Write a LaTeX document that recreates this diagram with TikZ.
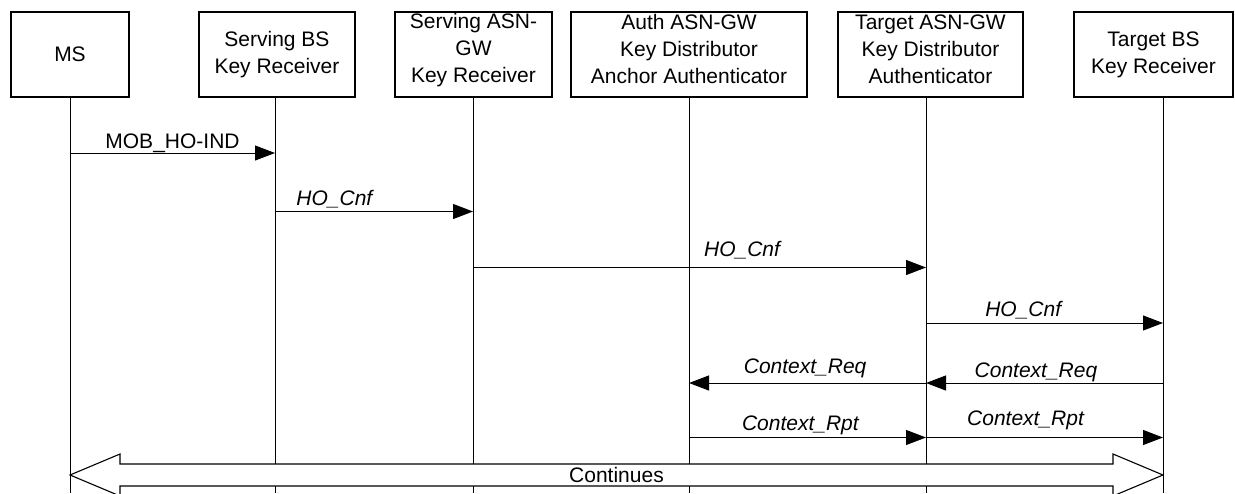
\documentclass[tikz,border=0pt]{standalone}
\usepackage{fontspec}
\setmainfont{Liberation Sans}
\usetikzlibrary{arrows.meta,calc}

\begin{document}
\begin{tikzpicture}[
    x=1pt, y=-1pt,
    entity/.style={draw, line width=1.1pt, minimum height=85pt, inner sep=0pt, align=center, font=\fontsize{21}{27}\selectfont},
    life/.style={line width=1pt},
    msg/.style={-{Triangle[length=20pt, width=15pt]}, line width=1pt},
    lbl/.style={anchor=base, inner sep=0pt, font=\fontsize{21}{27}\selectfont\itshape},
    bigarrow/.style={draw, fill=white, line width=1.1pt, line join=miter}
]
\useasboundingbox (0,0) rectangle (1235,493);

% Entities
\node[entity, minimum width=118pt] (ms) at (70,54.5) {MS};
\node[entity, minimum width=156pt] (sbs) at (277,54.5) {Serving BS\\Key Receiver};
\node[entity, minimum width=157pt, text depth=13pt] (sasn) at (473.5,54.5) {Serving ASN-\\GW\\Key Receiver};
\node[entity, minimum width=236pt, text depth=11pt] (auth) at (689,54.5) {Auth ASN-GW\\Key Distributor\\Anchor Authenticator};
\node[entity, minimum width=185pt, text depth=11pt] (tasn) at (930.5,54.5) {Target ASN-GW\\Key Distributor\\Authenticator};
\node[entity, minimum width=159pt] (tbs) at (1153.5,54.5) {Target BS\\Key Receiver};

% Lifelines
\coordinate (ms-l) at (70,97);
\coordinate (sbs-l) at (275,97);
\coordinate (sasn-l) at (473,97);
\coordinate (auth-l) at (689,97);
\coordinate (tasn-l) at (926,97);
\coordinate (tbs-l) at (1163,97);
\coordinate (bot) at (0,493);
\foreach \a in {ms,sbs,sasn,auth,tasn,tbs}
    \draw[life] (\a-l) -- (\a-l |- bot);

% Message rows
\coordinate (m1) at (0,153);
\coordinate (m2) at (0,211.5);
\coordinate (m3) at (0,267.5);
\coordinate (m4) at (0,323);
\coordinate (m5) at (0,383);
\coordinate (m6) at (0,437.5);
\coordinate (cont) at (0,475);

% Messages
\draw[msg] (ms-l |- m1) -- (sbs-l |- m1) node[lbl, pos=.5, yshift=5pt, font=\fontsize{21}{27}\selectfont] {MOB\_HO-IND};
\draw[msg] (sbs-l |- m2) -- (sasn-l |- m2) node[lbl, pos=.3, yshift=6.5pt] {HO\_Cnf};
\draw[msg] (sasn-l |- m3) -- (tasn-l |- m3) node[lbl, pos=.594, yshift=11pt] {HO\_Cnf};
\draw[msg] (tasn-l |- m4) -- (tbs-l |- m4) node[lbl, pos=.41, yshift=6.5pt] {HO\_Cnf};
\draw[msg] (tbs-l |- m5) -- (tasn-l |- m5) node[lbl, pos=.536, yshift=6pt] {Context\_Req};
\draw[msg] (tasn-l |- m5) -- (auth-l |- m5) node[lbl, pos=.51, yshift=10pt] {Context\_Req};
\draw[msg] (auth-l |- m6) -- (tasn-l |- m6) node[lbl, pos=.47, yshift=7.5pt] {Context\_Rpt};
\draw[msg] (tasn-l |- m6) -- (tbs-l |- m6) node[lbl, pos=.42, yshift=12.5pt] {Context\_Rpt};

% Continues
\draw[bigarrow] (ms-l |- cont) -- ++(50,-21) -- ++(0,10) -- ($(tbs-l |- cont)+(-50,-11)$) -- ++(0,-10)
    -- (tbs-l |- cont) -- ++(-50,21) -- ++(0,-10) -- ($(ms-l |- cont)+(50,11)$) -- ++(0,10) -- cycle;
\node[inner sep=0pt, font=\fontsize{21}{27}\selectfont] (conttext) at ($(ms-l |- cont)!0.5!(tbs-l |- cont)$) {Continues};

\end{tikzpicture}
\end{document}
